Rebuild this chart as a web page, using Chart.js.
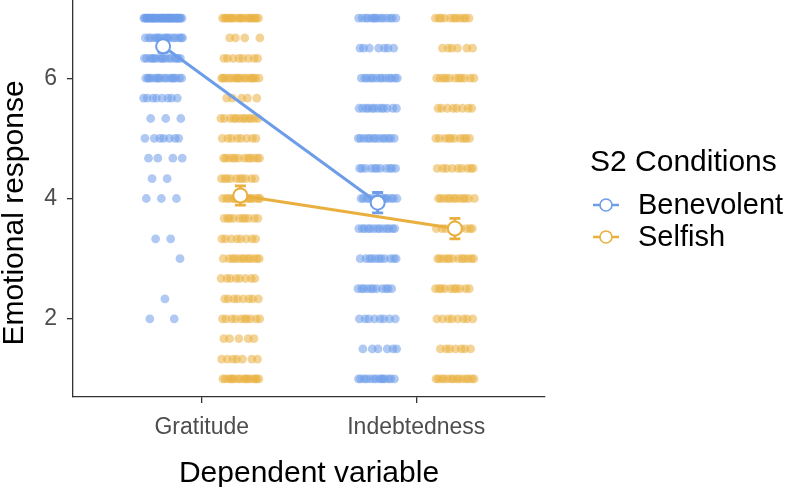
<!DOCTYPE html>
<html lang="en">
<head>
    <meta charset="UTF-8">
    <title>Emotional response by dependent variable</title>
    <script src="https://cdn.jsdelivr.net/npm/chart.js"></script>
    <style>
        body {
            margin: 0;
            padding: 0;
            background: #ffffff;
        }
        #chart {
            display: block;
        }
    </style>
</head>
<body>
    <canvas id="chart" width="787" height="487"></canvas>

    <script>
        // Data
        const categories = ['Gratitude', 'Indebtedness'];
        const groups = ['Benevolent', 'Selfish'];

        // gratitude is scored in thirds, indebtedness in halves
        const gratitudeLevels = [7, 6.67, 6.33, 6, 5.67, 5.33, 5, 4.67, 4.33, 4, 3.67, 3.33, 3, 2.67, 2.33, 2, 1.67, 1.33, 1];
        const gratitudeBenevolentCounts = [40, 16, 16, 16, 8, 3, 7, 4, 2, 3, 0, 2, 1, 0, 1, 2, 0, 0, 0];
        const gratitudeSelfishCounts = [18, 4, 8, 16, 5, 12, 8, 12, 10, 16, 10, 8, 12, 8, 8, 10, 5, 7, 16];

        const indebtednessLevels = [7, 6.5, 6, 5.5, 5, 4.5, 4, 3.5, 3, 2.5, 2, 1.5, 1];
        const indebtednessBenevolentCounts = [14, 7, 13, 12, 13, 11, 14, 13, 11, 11, 8, 6, 14];
        const indebtednessSelfishCounts = [11, 6, 11, 8, 10, 9, 12, 10, 12, 10, 8, 7, 14];

        const benevolentMeans = [6.53, 3.93];
        const selfishMeans = [4.05, 3.5];
        const benevolentErr = [0.1, 0.17];
        const selfishErr = [0.16, 0.17];

        const yTicks = [2, 4, 6];

        // look
        const BLUE = '#6d9de9';
        const ORANGE = '#e9b03f';
        const BLUE_PT = 'rgba(109, 157, 233, 0.55)';
        const ORANGE_PT = 'rgba(233, 176, 63, 0.55)';
        const FONT = "'Liberation Sans', Arial, sans-serif";
        const DODGE = 0.18;
        const JITTER = 0.092;

        // jittered x positions (golden ratio steps, so it is stable between runs)
        let step = 0;
        function jitterPoints(levels, counts, xCenter) {
            const pts = [];
            levels.forEach((lvl, i) => {
                for (let k = 0; k < counts[i]; k++) {
                    step++;
                    const frac = (step * 0.6180339887) % 1;
                    pts.push({ x: xCenter + (frac - 0.5) * 2 * JITTER, y: lvl });
                }
            });
            return pts;
        }

        const benevolentPoints = jitterPoints(gratitudeLevels, gratitudeBenevolentCounts, 1 - DODGE)
            .concat(jitterPoints(indebtednessLevels, indebtednessBenevolentCounts, 2 - DODGE));
        const selfishPoints = jitterPoints(gratitudeLevels, gratitudeSelfishCounts, 1 + DODGE)
            .concat(jitterPoints(indebtednessLevels, indebtednessSelfishCounts, 2 + DODGE));

        const benevolentMeanPts = benevolentMeans.map((m, i) => ({ x: i + 1 - DODGE, y: m }));
        const selfishMeanPts = selfishMeans.map((m, i) => ({ x: i + 1 + DODGE, y: m }));

        // error bars go in right before the mean lines and circles
        const errorBars = {
            id: 'errorBars',
            beforeDatasetDraw(chart, args) {
                if (chart.data.datasets[args.index].order !== 2) return;
                const ctx = chart.ctx;
                const xs = chart.scales.x;
                const ys = chart.scales.y;
                const sets = [
                    { pts: benevolentMeanPts, err: benevolentErr, color: BLUE },
                    { pts: selfishMeanPts, err: selfishErr, color: ORANGE }
                ];
                ctx.save();
                ctx.lineWidth = 2.8;
                sets.forEach(s => {
                    ctx.strokeStyle = s.color;
                    s.pts.forEach((p, i) => {
                        const px = xs.getPixelForValue(p.x);
                        const yTop = ys.getPixelForValue(p.y + s.err[i]);
                        const yBot = ys.getPixelForValue(p.y - s.err[i]);
                        ctx.beginPath();
                        ctx.moveTo(px, yTop);
                        ctx.lineTo(px, yBot);
                        ctx.moveTo(px - 5.5, yTop);
                        ctx.lineTo(px + 5.5, yTop);
                        ctx.moveTo(px - 5.5, yBot);
                        ctx.lineTo(px + 5.5, yBot);
                        ctx.stroke();
                    });
                });
                ctx.restore();
            }
        };

        // axis titles and the ggplot style legend on the right
        const sideLegend = {
            id: 'sideLegend',
            afterDraw(chart) {
                const ctx = chart.ctx;
                const area = chart.chartArea;
                ctx.save();
                ctx.fillStyle = '#000000';
                ctx.textBaseline = 'alphabetic';

                ctx.font = '30px ' + FONT;
                ctx.textAlign = 'center';
                ctx.fillText('Dependent variable', (area.left + area.right) / 2, 482);
                ctx.save();
                ctx.translate(23, 213);
                ctx.rotate(-Math.PI / 2);
                ctx.fillText('Emotional response', 0, 0);
                ctx.restore();

                const x0 = area.right + 45;
                ctx.textAlign = 'left';
                ctx.font = '30px ' + FONT;
                ctx.fillText('S2 Conditions', x0, 171);

                const items = [
                    { label: groups[0], color: BLUE, y: 205 },
                    { label: groups[1], color: ORANGE, y: 237 }
                ];
                ctx.font = '29px ' + FONT;
                items.forEach(it => {
                    ctx.strokeStyle = it.color;
                    ctx.lineWidth = 2.5;
                    ctx.beginPath();
                    ctx.moveTo(x0 + 3, it.y);
                    ctx.lineTo(x0 + 29, it.y);
                    ctx.stroke();
                    ctx.beginPath();
                    ctx.arc(x0 + 16, it.y, 6, 0, Math.PI * 2);
                    ctx.fillStyle = '#ffffff';
                    ctx.fill();
                    ctx.lineWidth = 1.6;
                    ctx.stroke();
                    ctx.fillStyle = '#000000';
                    ctx.fillText(it.label, x0 + 48, it.y + 9);
                });
                ctx.restore();
            }
        };

        const chart = new Chart(document.getElementById('chart'), {
            type: 'scatter',
            data: {
                datasets: [{
                    label: groups[0] + ' mean',
                    data: benevolentMeanPts,
                    showLine: true,
                    borderColor: BLUE,
                    borderWidth: 3,
                    pointRadius: 7,
                    pointBackgroundColor: '#ffffff',
                    pointBorderColor: BLUE,
                    pointBorderWidth: 2,
                    order: 1
                }, {
                    label: groups[1] + ' mean',
                    data: selfishMeanPts,
                    showLine: true,
                    borderColor: ORANGE,
                    borderWidth: 3,
                    pointRadius: 7,
                    pointBackgroundColor: '#ffffff',
                    pointBorderColor: ORANGE,
                    pointBorderWidth: 2,
                    order: 2
                }, {
                    label: groups[0],
                    data: benevolentPoints,
                    pointRadius: 4.4,
                    pointBackgroundColor: BLUE_PT,
                    pointBorderWidth: 0,
                    order: 3
                }, {
                    label: groups[1],
                    data: selfishPoints,
                    pointRadius: 4.4,
                    pointBackgroundColor: ORANGE_PT,
                    pointBorderWidth: 0,
                    order: 4
                }]
            },
            options: {
                responsive: false,
                animation: false,
                layout: {
                    autoPadding: false,
                    padding: { top: 0, right: 242, bottom: 0, left: 0 }
                },
                plugins: {
                    legend: { display: false },
                    tooltip: { enabled: false }
                },
                scales: {
                    x: {
                        type: 'linear',
                        min: 0.4,
                        max: 2.6,
                        afterBuildTicks: scale => {
                            scale.ticks = categories.map((c, i) => ({ value: i + 1 }));
                        },
                        afterFit: scale => {
                            scale.height = 90;
                            scale.paddingLeft = 0;
                            scale.paddingRight = 0;
                        },
                        ticks: {
                            callback: v => categories[v - 1],
                            font: { size: 23, family: FONT },
                            color: '#4d4d4d',
                            padding: 11,
                            maxRotation: 0
                        },
                        grid: {
                            drawOnChartArea: false,
                            drawTicks: true,
                            tickLength: 6,
                            color: '#333333',
                            lineWidth: 1.3
                        },
                        border: { display: true, color: '#333333', width: 1.3 }
                    },
                    y: {
                        min: 0.7,
                        max: 7.3,
                        afterBuildTicks: scale => {
                            scale.ticks = yTicks.map(v => ({ value: v }));
                        },
                        afterFit: scale => {
                            scale.width = 73;
                            scale.paddingTop = 0;
                            scale.paddingBottom = 0;
                        },
                        ticks: {
                            font: { size: 23, family: FONT },
                            color: '#4d4d4d',
                            padding: 10
                        },
                        grid: {
                            drawOnChartArea: false,
                            drawTicks: true,
                            tickLength: 6,
                            color: '#333333',
                            lineWidth: 1.3
                        },
                        border: { display: true, color: '#333333', width: 1.3 }
                    }
                }
            },
            plugins: [errorBars, sideLegend]
        });
    </script>
</body>
</html>
